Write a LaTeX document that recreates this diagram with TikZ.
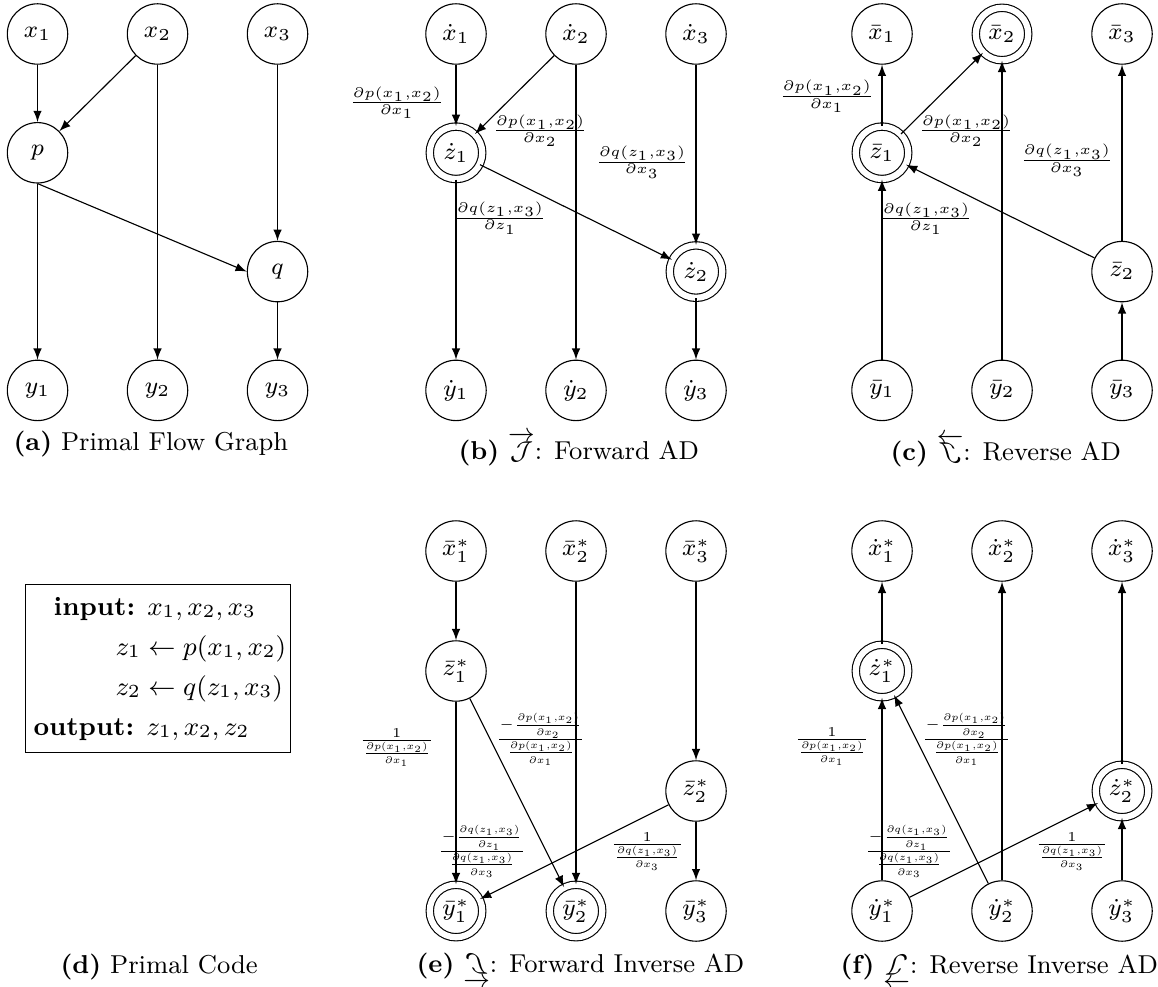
\documentclass[tikz,border=0pt]{standalone}
\usepackage{fix-cm}
\usepackage{amsmath}
\usetikzlibrary{arrows}

\newcommand{\dpdxa}{\frac{\partial p(x_1,x_2)}{\partial x_1}}
\newcommand{\dpdxb}{\frac{\partial p(x_1,x_2)}{\partial x_2}}
\newcommand{\dqdxc}{\frac{\partial q(z_1,x_3)}{\partial x_3}}
\newcommand{\dqdz}{\frac{\partial q(z_1,x_3)}{\partial z_1}}

\begin{document}
\begin{tikzpicture}
  [
     circ/.style={shape=circle,
                  draw,
                  minimum size=0.755cm,
                  inner sep=0pt,
                  font=\fontsize{8.5}{10}\selectfont},
     dcirc/.style={circ,
                  double,
                  double distance=2.2pt,
                  minimum size=0.656cm},
     edge/.style={->,>=latex},
     lbl/.style={inner sep=0pt,
                  font=\fontsize{7}{8}\selectfont},
     nlbl/.style={inner sep=0pt,
                  font=\fontsize{6.9}{8}\selectfont},
     code/.style={anchor=base west,
                  inner sep=0pt,
                  font=\fontsize{9.4}{11}\selectfont},
     capt/.style={inner sep=0pt,
                  anchor=base west,
                  font=\fontsize{9.2}{11}\selectfont}
  ]
  \useasboundingbox (0,0) rectangle (14.475,-12.3375);

  % (a) primal flow graph
  \begin{scope}[shift={(0.469,-0.425)}]
     \foreach \i in {1,2,3}{
        \node[circ] (a-x\i) at ({(\i-1)*1.5},0) {$x_\i$};
        \node[circ] (a-y\i) at ({(\i-1)*1.5},-4.455) {$y_\i$};
     }
     \node[circ] (a-p) at (0,-1.485) {$p$};
     \node[circ] (a-q) at (3,-2.97) {$q$};
     \draw[edge] (a-x1) -- (a-p);
     \draw[edge] (a-x2) -- (a-p);
     \draw[edge] (a-x2) -- (a-y2);
     \draw[edge] (a-x3) -- (a-q);
     \draw[edge] (a-p) -- (a-y1);
     \draw[edge] (a-p.south) -- (a-q.west);
     \draw[edge] (a-q) -- (a-y3);
  \end{scope}

  % (b) forward AD
  \begin{scope}[shift={(5.7,-0.425)}]
     \foreach \i in {1,2,3}{
        \node[circ] (b-x\i) at ({(\i-1)*1.5},0) {$\dot{x}_\i$};
        \node[circ] (b-y\i) at ({(\i-1)*1.5},-4.455) {$\dot{y}_\i$};
     }
     \node[dcirc] (b-z1) at (0,-1.485) {$\dot{z}_1$};
     \node[dcirc] (b-z2) at (3,-2.97) {$\dot{z}_2$};
     \draw[edge] (b-x1) -- (b-z1);
     \draw[edge] (b-x2) -- (b-z1);
     \draw[edge] (b-x2) -- (b-y2);
     \draw[edge] (b-x3) -- (b-z2);
     \draw[edge] (b-z1) -- (b-y1);
     \draw[edge] (b-z1) -- (b-z2);
     \draw[edge] (b-z2) -- (b-y3);
     \node[lbl] (b-l1) at (-0.74,-0.86) {$\dpdxa$};
     \node[lbl] (b-l2) at (1.05,-1.21) {$\dpdxb$};
     \node[lbl] (b-l3) at (2.325,-1.6) {$\dqdxc$};
     \node[lbl] (b-l4) at (0.55,-2.3) {$\dqdz$};
  \end{scope}

  % (c) reverse AD
  \begin{scope}[shift={(11.025,-0.425)}]
     \foreach \i/\s in {1/circ,2/dcirc,3/circ}{
        \node[\s] (c-x\i) at ({(\i-1)*1.5},0) {$\bar{x}_\i$};
        \node[circ] (c-y\i) at ({(\i-1)*1.5},-4.455) {$\bar{y}_\i$};
     }
     \node[dcirc] (c-z1) at (0,-1.485) {$\bar{z}_1$};
     \node[circ] (c-z2) at (3,-2.97) {$\bar{z}_2$};
     \draw[edge] (c-z1) -- (c-x1);
     \draw[edge] (c-z1) -- (c-x2);
     \draw[edge] (c-y2) -- (c-x2);
     \draw[edge] (c-z2) -- (c-x3);
     \draw[edge] (c-y1) -- (c-z1);
     \draw[edge] (c-z2) -- (c-z1);
     \draw[edge] (c-y3) -- (c-z2);
     \node[lbl] (c-l1) at (-0.69,-0.78) {$\dpdxa$};
     \node[lbl] (c-l2) at (1.05,-1.21) {$\dpdxb$};
     \node[lbl] (c-l3) at (2.31,-1.58) {$\dqdxc$};
     \node[lbl] (c-l4) at (0.55,-2.31) {$\dqdz$};
  \end{scope}

  % (d) primal code
  \node[draw, anchor=north west, minimum width=3.3125cm, minimum height=2.1cm] (d-box) at (0.3125,-7.3) {};
  \node[code] (d-in) at (0.6625,-7.6875) {\textbf{input:} $x_1, x_2, x_3$};
  \node[code] (d-z1) at (1.4375,-8.1875) {$z_1 \leftarrow p(x_1, x_2)$};
  \node[code] (d-z2) at (1.4375,-8.6875) {$z_2 \leftarrow q(z_1, x_3)$};
  \node[code] (d-out) at (0.4125,-9.1875) {\textbf{output:} $z_1, x_2, z_2$};

  % (e) forward inverse AD
  \begin{scope}[shift={(5.7,-6.8875)}]
     \foreach \i/\s in {1/dcirc,2/dcirc,3/circ}{
        \node[circ] (e-x\i) at ({(\i-1)*1.5},0) {$\bar{x}^*_\i$};
        \node[\s] (e-y\i) at ({(\i-1)*1.5},-4.5) {$\bar{y}^*_\i$};
     }
     \node[circ] (e-z1) at (0,-1.5) {$\bar{z}^*_1$};
     \node[circ] (e-z2) at (3,-3) {$\bar{z}^*_2$};
     \draw[edge] (e-x1) -- (e-z1);
     \draw[edge] (e-x2) -- (e-y2);
     \draw[edge] (e-x3) -- (e-z2);
     \draw[edge] (e-z1) -- (e-y1);
     \draw[edge] (e-z1) -- (e-y2);
     \draw[edge] (e-z2) -- (e-y1);
     \draw[edge] (e-z2) -- (e-y3);
     \node[nlbl] (e-l1) at (-0.74,-2.46) {$\frac{1}{\dpdxa}$};
     \node[nlbl] (e-l2) at (1.06,-2.36) {$\frac{-\dpdxb}{\dpdxa}$};
     \node[nlbl] (e-l3) at (2.39,-3.76) {$\frac{1}{\dqdxc}$};
     \node[nlbl] (e-l4) at (0.325,-3.76) {$\frac{-\dqdz}{\dqdxc}$};
  \end{scope}

  % (f) reverse inverse AD
  \begin{scope}[shift={(11.025,-6.8875)}]
     \foreach \i in {1,2,3}{
        \node[circ] (f-x\i) at ({(\i-1)*1.5},0) {$\dot{x}^*_\i$};
        \node[circ] (f-y\i) at ({(\i-1)*1.5},-4.5) {$\dot{y}^*_\i$};
     }
     \node[dcirc] (f-z1) at (0,-1.5) {$\dot{z}^*_1$};
     \node[dcirc] (f-z2) at (3,-3) {$\dot{z}^*_2$};
     \draw[edge] (f-z1) -- (f-x1);
     \draw[edge] (f-y2) -- (f-x2);
     \draw[edge] (f-z2) -- (f-x3);
     \draw[edge] (f-y1) -- (f-z1);
     \draw[edge] (f-y2) -- (f-z1);
     \draw[edge] (f-y1) -- (f-z2);
     \draw[edge] (f-y3) -- (f-z2);
     \node[nlbl] (f-l1) at (-0.625,-2.45) {$\frac{1}{\dpdxa}$};
     \node[nlbl] (f-l2) at (1.06,-2.36) {$\frac{-\dpdxb}{\dpdxa}$};
     \node[nlbl] (f-l3) at (2.375,-3.76) {$\frac{1}{\dqdxc}$};
     \node[nlbl] (f-l4) at (0.34,-3.76) {$\frac{-\dqdz}{\dqdxc}$};
  \end{scope}

  % captions
  \node[capt] (a-cap) at (0.1625,-5.625) {\textbf{(a)} Primal Flow Graph};
  \node[capt] (b-cap) at (5.725,-5.7375) {\textbf{(b)} $\overrightarrow{\mathcal{J}}$: Forward AD};
  \node[capt] (c-cap) at (11.125,-5.7625) {\textbf{(c)} $\overleftarrow{\reflectbox{$\mathcal{J}$}}$: Reverse AD};
  \node[capt] (d-cap) at (0.75,-12.1625) {\textbf{(d)} Primal Code};
  \node[capt] (e-cap) at (5.2,-12.15) {\textbf{(e)} $\underrightarrow{\rotatebox[origin=c]{180}{\reflectbox{$\mathcal{J}$}}}$: Forward Inverse AD};
  \node[capt] (f-cap) at (10.5,-12.1625) {\textbf{(f)} $\underleftarrow{\rotatebox[origin=c]{180}{$\mathcal{J}$}}$: Reverse Inverse AD};
\end{tikzpicture}
\end{document}
